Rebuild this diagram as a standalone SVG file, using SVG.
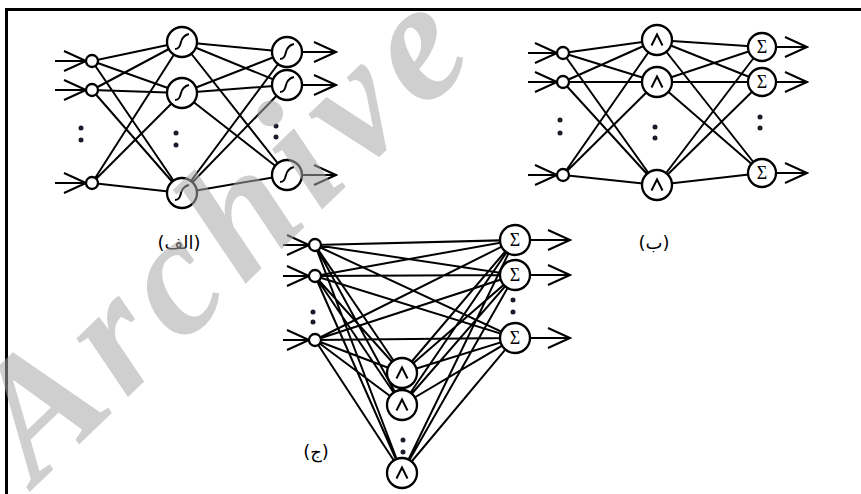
<svg xmlns="http://www.w3.org/2000/svg" xmlns:xlink="http://www.w3.org/1999/xlink" width="861" height="494" viewBox="0 0 861 494">
<style>
.c{stroke:#000;stroke-width:2;fill:none}
.a{stroke:#000;stroke-width:2;fill:none;marker-end:url(#ah)}
.n{fill:#fff;stroke:#000;stroke-width:2.3}
.d{fill:#1a1a2a}
.sym{fill:none;stroke:#000;stroke-width:2}
.sig{font-family:"Liberation Serif",serif;font-size:18px;text-anchor:middle}
.lbl{font-family:"DejaVu Sans",sans-serif;font-size:18px;text-anchor:middle}
.wm{font-family:"Liberation Serif",serif;font-style:italic;font-weight:bold;font-size:170px;letter-spacing:11px;fill:#a8a8a8;opacity:0.55}
</style>
<defs>
<marker id="ah" viewBox="-23 -12 25 24" refX="0" refY="0" markerWidth="25" markerHeight="24" markerUnits="userSpaceOnUse" orient="auto">
<path d="M-22,-10 L0,0 L-22,10" fill="none" stroke="#000" stroke-width="2"/>
</marker>
<path id="sg" d="M-7,7 C-3,7 -2,4 -1,0 C0,-4 2,-7 7,-8" class="sym"/>
<path id="gs" d="M-5.5,5.5 L0,-5.5 L5.5,5.5" class="sym" stroke-width="2.6"/>
</defs>
<g id="border">
<line x1="6" y1="9.5" x2="861" y2="9.5" stroke="#000" stroke-width="3"/>
<line x1="6.5" y1="8" x2="6.5" y2="494" stroke="#000" stroke-width="3"/>
</g>
<g id="connectors">
<g>
<path class="c" d="M92,61L182,42M92,61L182,93M92,61L182,193M92,90L182,42M92,90L182,93M92,90L182,193M92,183L182,42M92,183L182,93M92,183L182,193"/>
<path class="c" d="M182,42L287,52M182,42L287,85M182,42L287,175M182,93L287,52M182,93L287,85M182,93L287,175M182,193L287,52M182,193L287,85M182,193L287,175"/>
<path class="a" d="M55,61H86"/><path class="a" d="M55,90H86"/><path class="a" d="M55,183H86"/>
<path class="a" d="M302,52H336"/><path class="a" d="M302,85H336"/><path class="a" d="M302,175H336"/>
</g>
<g>
<path class="c" d="M563,53L657,40M563,53L657,82M563,53L657,185M563,82L657,40M563,82L657,82M563,82L657,185M563,175L657,40M563,175L657,82M563,175L657,185"/>
<path class="c" d="M657,40L762,47M657,40L762,82M657,40L762,173M657,82L762,47M657,82L762,82M657,82L762,173M657,185L762,47M657,185L762,82M657,185L762,173"/>
<path class="a" d="M528,53H557"/><path class="a" d="M528,82H557"/><path class="a" d="M528,175H557"/>
<path class="a" d="M776,47H807"/><path class="a" d="M776,82H807"/><path class="a" d="M776,173H807"/>
</g>
<g>
<path class="c" d="M315,245L515,240M315,245L515,275M315,245L515,338M315,276L515,240M315,276L515,275M315,276L515,338M315,340L515,240M315,340L515,275M315,340L515,338"/>
<path class="c" d="M315,245L402,373M315,245L402,405M315,245L402,473M315,276L402,373M315,276L402,405M315,276L402,473M315,340L402,373M315,340L402,405M315,340L402,473"/>
<path class="c" d="M402,373L515,240M402,373L515,275M402,373L515,338M402,405L515,240M402,405L515,275M402,405L515,338M402,473L515,240M402,473L515,275M402,473L515,338"/>
<path class="a" d="M283,245H309"/><path class="a" d="M283,276H309"/><path class="a" d="M283,340H309"/>
<path class="a" d="M530,240H570"/><path class="a" d="M530,275H570"/><path class="a" d="M530,338H570"/>
</g>
</g>
<g id="a_in1"><circle class="n" cx="92" cy="61" r="6"/></g>
<g id="a_in2"><circle class="n" cx="92" cy="90" r="6"/></g>
<g id="a_in3"><circle class="n" cx="92" cy="183" r="6"/></g>
<g id="a_h1"><circle class="n" cx="182" cy="42" r="15"/><use xlink:href="#sg" x="182" y="42"/></g>
<g id="a_h2"><circle class="n" cx="182" cy="93" r="15"/><use xlink:href="#sg" x="182" y="93"/></g>
<g id="a_h3"><circle class="n" cx="182" cy="193" r="15"/><use xlink:href="#sg" x="182" y="193"/></g>
<g id="a_o1"><circle class="n" cx="287" cy="52" r="15"/><use xlink:href="#sg" x="287" y="52"/></g>
<g id="a_o2"><circle class="n" cx="287" cy="85" r="15"/><use xlink:href="#sg" x="287" y="85"/></g>
<g id="a_o3"><circle class="n" cx="287" cy="175" r="15"/><use xlink:href="#sg" x="287" y="175"/></g>
<g id="a_dots">
<circle class="d" cx="81" cy="128" r="2.5"/><circle class="d" cx="81" cy="140" r="2.5"/>
<circle class="d" cx="176" cy="133" r="2.5"/><circle class="d" cx="176" cy="145" r="2.5"/>
<circle class="d" cx="276" cy="126" r="2.5"/><circle class="d" cx="276" cy="137" r="2.5"/>
</g>
<g id="b_in1"><circle class="n" cx="563" cy="53" r="6"/></g>
<g id="b_in2"><circle class="n" cx="563" cy="82" r="6"/></g>
<g id="b_in3"><circle class="n" cx="563" cy="175" r="6"/></g>
<g id="b_h1"><circle class="n" cx="657" cy="40" r="15"/><use xlink:href="#gs" x="657" y="40"/></g>
<g id="b_h2"><circle class="n" cx="657" cy="82" r="15"/><use xlink:href="#gs" x="657" y="82"/></g>
<g id="b_h3"><circle class="n" cx="657" cy="185" r="15"/><use xlink:href="#gs" x="657" y="185"/></g>
<g id="b_o1"><circle class="n" cx="762" cy="47" r="14"/><text class="sig" x="762" y="53">Σ</text></g>
<g id="b_o2"><circle class="n" cx="762" cy="82" r="14"/><text class="sig" x="762" y="88">Σ</text></g>
<g id="b_o3"><circle class="n" cx="762" cy="173" r="14"/><text class="sig" x="762" y="179">Σ</text></g>
<g id="b_dots">
<circle class="d" cx="560" cy="120" r="2.5"/><circle class="d" cx="560" cy="133" r="2.5"/>
<circle class="d" cx="655" cy="127" r="2.5"/><circle class="d" cx="655" cy="138" r="2.5"/>
<circle class="d" cx="760" cy="117" r="2.5"/><circle class="d" cx="760" cy="128" r="2.5"/>
</g>
<g id="c_in1"><circle class="n" cx="315" cy="245" r="6"/></g>
<g id="c_in2"><circle class="n" cx="315" cy="276" r="6"/></g>
<g id="c_in3"><circle class="n" cx="315" cy="340" r="6"/></g>
<g id="c_h1"><circle class="n" cx="402" cy="373" r="15"/><use xlink:href="#gs" x="402" y="373"/></g>
<g id="c_h2"><circle class="n" cx="402" cy="405" r="15"/><use xlink:href="#gs" x="402" y="405"/></g>
<g id="c_h3"><circle class="n" cx="402" cy="473" r="15"/><use xlink:href="#gs" x="402" y="473"/></g>
<g id="c_o1"><circle class="n" cx="515" cy="240" r="15"/><text class="sig" x="515" y="246">Σ</text></g>
<g id="c_o2"><circle class="n" cx="515" cy="275" r="15"/><text class="sig" x="515" y="281">Σ</text></g>
<g id="c_o3"><circle class="n" cx="515" cy="338" r="15"/><text class="sig" x="515" y="344">Σ</text></g>
<g id="c_dots">
<circle class="d" cx="313" cy="312" r="2.5"/><circle class="d" cx="313" cy="322" r="2.5"/>
<circle class="d" cx="513" cy="300" r="2.5"/><circle class="d" cx="513" cy="312" r="2.5"/>
<circle class="d" cx="403" cy="440" r="2.5"/><circle class="d" cx="403" cy="452" r="2.5"/>
</g>
<g id="labels">
<text class="lbl" x="179" y="249">(الف)</text>
<text class="lbl" x="654" y="249">(ب)</text>
<text class="lbl" x="316" y="458">(ج)</text>
</g>
<g id="watermark">
<text class="wm" transform="translate(36,486) rotate(-44)">Archive</text>
</g>
</svg>
